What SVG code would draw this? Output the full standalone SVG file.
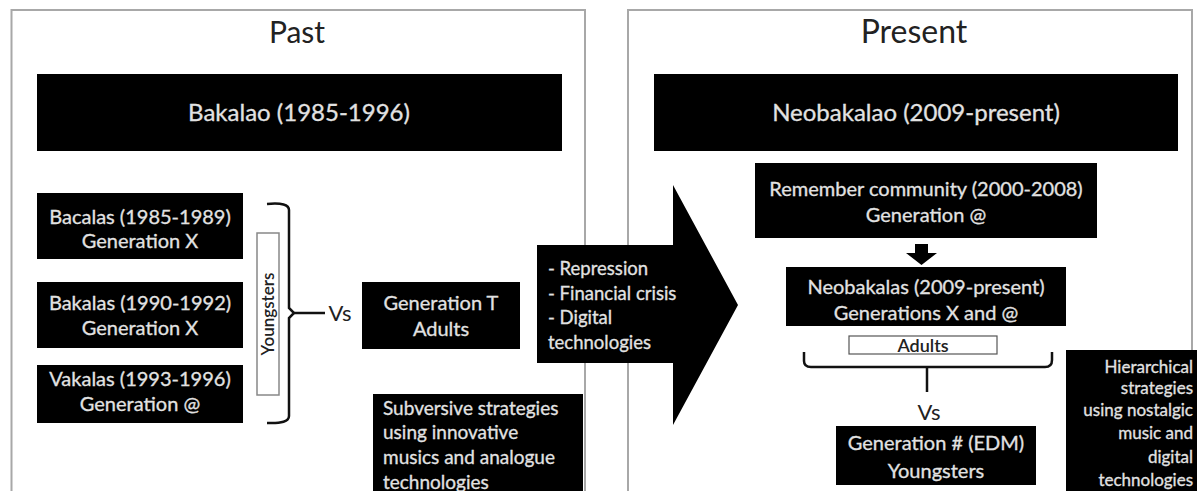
<svg xmlns="http://www.w3.org/2000/svg" width="1197" height="491" viewBox="0 0 1197 491">
<style>
.panel{fill:#fff;stroke:#a8a8a8;stroke-width:2}
.box{fill:#000}
.wt{font-family:Lato,"Liberation Sans",sans-serif;fill:#e2e2e2;text-anchor:middle;stroke:#e2e2e2;stroke-width:0.3}
.bt{font-family:Lato,"Liberation Sans",sans-serif;fill:#222;text-anchor:middle}
.t20{font-size:20px}
.t19{font-size:19px}
.lft{text-anchor:start}
.rgt{text-anchor:end}
.br{fill:none;stroke:#111;stroke-width:2.5}
</style>
<rect width="1197" height="491" fill="#fff"/>
<g id="panel-past">
<rect class="panel" x="11.5" y="10" width="573.5" height="490"/>
<text class="bt" x="297" y="43" font-size="30">Past</text>
</g>
<g id="panel-present">
<rect class="panel" x="628" y="10" width="564" height="490"/>
<text class="bt" x="914" y="43" font-size="32">Present</text>
</g>
<g id="bakalao">
<rect class="box" x="37" y="74" width="525" height="77"/>
<text class="wt" x="299" y="121" font-size="24">Bakalao (1985-1996)</text>
</g>
<g id="neobakalao">
<rect class="box" x="654" y="74" width="524" height="77"/>
<text class="wt" x="916" y="121" font-size="24">Neobakalao (2009-present)</text>
</g>
<g id="bacalas">
<rect class="box" x="37" y="193" width="206" height="66"/>
<text class="wt t20" x="140" y="224">Bacalas (1985-1989)</text>
<text class="wt t20" x="140" y="248">Generation X</text>
</g>
<g id="bakalas">
<rect class="box" x="37" y="282" width="206" height="66"/>
<text class="wt t20" x="140" y="310">Bakalas (1990-1992)</text>
<text class="wt t20" x="140" y="335">Generation X</text>
</g>
<g id="vakalas">
<rect class="box" x="37" y="365" width="206" height="58"/>
<text class="wt t20" x="140" y="386">Vakalas (1993-1996)</text>
<text class="wt t20" x="140" y="411">Generation @</text>
</g>
<g id="youngsters-label">
<rect x="257" y="233" width="22" height="162" fill="#fff" stroke="#888" stroke-width="1.5"/>
<text class="bt" transform="translate(274,314) rotate(-90)" font-size="17" font-weight="600">Youngsters</text>
</g>
<g id="vs-left">
<text class="bt" x="340" y="321" font-size="22" fill="#111">Vs</text>
</g>
<g id="generation-t">
<rect class="box" x="362" y="282" width="158" height="67"/>
<text class="wt t20" x="441" y="310">Generation T</text>
<text class="wt t20" x="441" y="336">Adults</text>
</g>
<g id="subversive">
<rect class="box" x="373" y="394" width="210" height="100"/>
<text class="wt t19 lft" x="383" y="415">Subversive strategies</text>
<text class="wt t19 lft" x="383" y="439">using innovative</text>
<text class="wt t19 lft" x="383" y="464">musics and analogue</text>
<text class="wt t19 lft" x="383" y="489">technologies</text>
</g>
<g id="transition-arrow">
<path class="box" d="M537,245 L673,245 L673,185 L738,305 L673,425 L673,363 L537,363 Z"/>
<text class="wt lft" x="548" y="275" font-size="18.5">- Repression</text>
<text class="wt lft" x="548" y="300" font-size="18.5">- Financial crisis</text>
<text class="wt lft" x="548" y="324" font-size="18.5">- Digital</text>
<text class="wt lft" x="548" y="349" font-size="18.5">technologies</text>
</g>
<g id="remember">
<rect class="box" x="755" y="163" width="342" height="75"/>
<text class="wt t20" x="926" y="196">Remember community (2000-2008)</text>
<text class="wt t20" x="926" y="222">Generation @</text>
</g>
<g id="neobakalas">
<rect class="box" x="786" y="267" width="280" height="59"/>
<text class="wt t20" x="926" y="294">Neobakalas (2009-present)</text>
<text class="wt t20" x="926" y="320">Generations X and @</text>
</g>
<g id="adults-label">
<rect x="849" y="336" width="148" height="18" fill="#fff" stroke="#555" stroke-width="1.2"/>
<text class="bt" x="923" y="351.5" font-size="18" font-weight="600">Adults</text>
</g>
<g id="vs-right">
<text class="bt" x="929" y="420" font-size="22" fill="#111">Vs</text>
</g>
<g id="generation-hash">
<rect class="box" x="836" y="426" width="200" height="59"/>
<text class="wt t20" x="936" y="450">Generation # (EDM)</text>
<text class="wt t20" x="936" y="478">Youngsters</text>
</g>
<g id="hierarchical">
<rect class="box" x="1066" y="350" width="131" height="145"/>
<text class="wt rgt" x="1193" y="373" font-size="17">Hierarchical</text>
<text class="wt rgt" x="1193" y="394" font-size="17">strategies</text>
<text class="wt rgt" x="1193" y="416" font-size="17">using nostalgic</text>
<text class="wt rgt" x="1193" y="439" font-size="17">music and</text>
<text class="wt rgt" x="1193" y="463" font-size="17">digital</text>
<text class="wt rgt" x="1193" y="486" font-size="17">technologies</text>
</g>
<g id="connectors">
<path class="br" d="M267,204 Q289,202 289,210 L289,308 L294,313 L289,318 L289,416 Q289,424 267,423"/>
<path class="br" d="M294,313 L325,313"/>
<path class="box" d="M915,244 L928,244 L928,253 L937,253 L921.5,265 L906,253 L915,253 Z"/>
<path class="br" stroke-width="2" d="M804,352 L804,361 Q804,367 811,367 L1045,367 Q1052,367 1052,360 L1052,352"/>
<path class="br" stroke-width="2" d="M927,367 L927,392"/>
</g>
</svg>
